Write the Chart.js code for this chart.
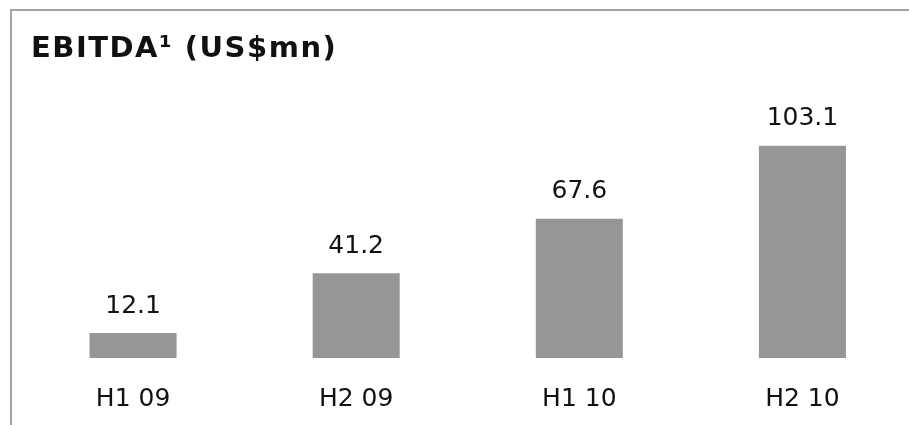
<!DOCTYPE html>
<html>
<head>
<meta charset="utf-8">
<script src="https://cdn.jsdelivr.net/npm/chart.js@4"></script>
<style>
  html, body { margin: 0; padding: 0; background: #fff; overflow: hidden; }
  #wrap { position: relative; width: 909px; height: 425px; overflow: hidden; }
  #frame { position: absolute; left: 10px; top: 9px; width: 920px; height: 430px;
           border-top: 2px solid #a3a3a3; border-left: 2px solid #a3a3a3; }
  #chart1 { position: absolute; left: 0; top: 0; }
</style>
</head>
<body>
<div id="wrap">
  <div id="frame"></div>
  <canvas id="chart1" width="914" height="425" style="width:914px;height:425px"></canvas>
</div>
<script>
// datos
const titulo = 'EBITDA\u00B9 (US$mn)';
const periodos = ['H1 09', 'H2 09', 'H1 10', 'H2 10'];
const ebitda = [12.1, 41.2, 67.6, 103.1];

// título a mano (alineado con el marco)
const tituloPlugin = {
    id: 'tituloPlugin',
    afterDraw(chart) {
        const c = chart.ctx;
        c.save();
        c.font = 'bold 29px "DejaVu Sans"';
        c.letterSpacing = '1.5px';
        c.fillStyle = '#111';
        c.textBaseline = 'alphabetic';
        c.textAlign = 'left';
        c.fillText(titulo, 31, 57);
        c.restore();
    }
};

// etiquetas de valor encima de cada barra
const valoresPlugin = {
    id: 'valoresPlugin',
    afterDatasetsDraw(chart) {
        const c = chart.ctx;
        const meta = chart.getDatasetMeta(0);
        c.save();
        c.font = '25px "DejaVu Sans"';
        c.fillStyle = '#111';
        c.textAlign = 'center';
        c.textBaseline = 'middle';
        meta.data.forEach((bar, i) => {
            c.fillText(ebitda[i].toFixed(1), bar.x, bar.y - 27);
        });
        c.restore();
    }
};

const ctx1 = document.getElementById('chart1').getContext('2d');
new Chart(ctx1, {
    type: 'bar',
    data: {
        labels: periodos,
        datasets: [{
            label: 'EBITDA',
            data: ebitda,
            backgroundColor: '#969696',
            borderWidth: 0,
            barPercentage: 0.39,
            categoryPercentage: 1
        }]
    },
    options: {
        responsive: false,
        animation: false,
        layout: { padding: { left: 21.5, right: 0, top: 80, bottom: 0 } },
        plugins: {
            legend: { display: false },
            title: { display: false },
            tooltip: { enabled: false }
        },
        scales: {
            x: {
                grid: { display: false, drawTicks: false },
                border: { display: false },
                afterFit: (scale) => { scale.height = 67; },
                ticks: {
                    padding: 26,
                    color: '#111',
                    font: { family: 'DejaVu Sans', size: 25 },
                    maxRotation: 0
                }
            },
            y: {
                display: false,
                min: 0,
                max: 135
            }
        }
    },
    plugins: [tituloPlugin, valoresPlugin]
});
</script>
</body>
</html>
